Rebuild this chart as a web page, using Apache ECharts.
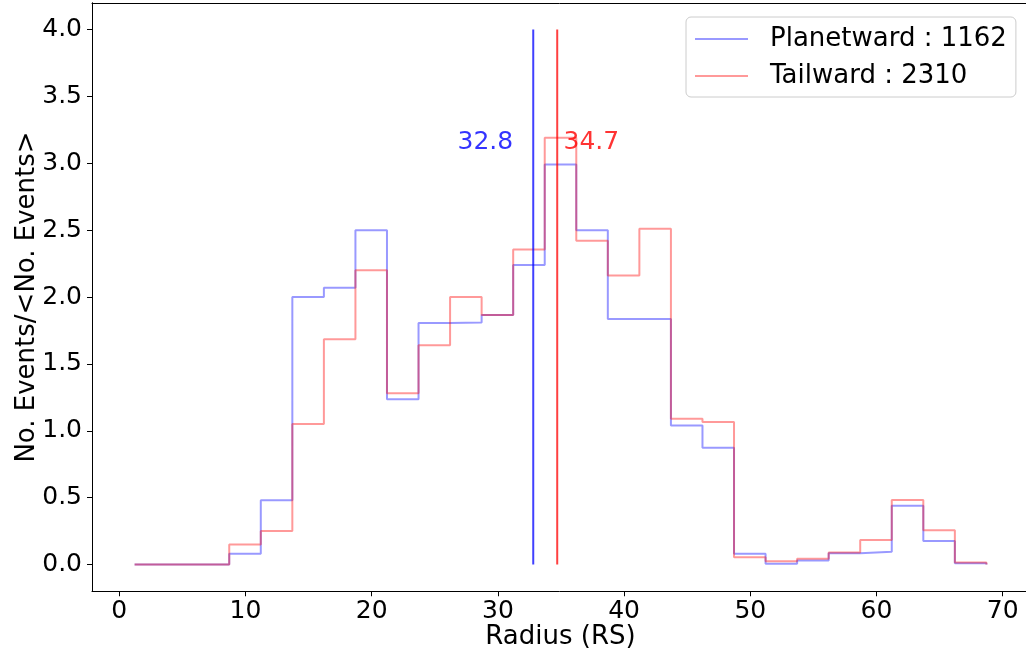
<!DOCTYPE html>
<html>
<head>
<meta charset="utf-8">
<script src="https://cdn.jsdelivr.net/npm/echarts@6/dist/echarts.min.js"></script>
<style>html,body{margin:0;padding:0;background:#fff;}#c{width:1026px;height:658px;}</style>
</head>
<body>
<div id="c"></div>
<script>
// Bin edges (Radius, RS)
const binEdges = [1.21, 3.71, 6.21, 8.71, 11.21, 13.71, 16.21, 18.71, 21.21, 23.71, 26.21, 28.71, 31.21, 33.71,
  36.21, 38.71, 41.21, 43.71, 46.21, 48.71, 51.21, 53.71, 56.21, 58.71, 61.21, 63.71, 66.21, 68.71];
// Normalised counts per bin
const planetward = [0, 0, 0, 0.08, 0.48, 2.00, 2.07, 2.50, 1.235, 1.805, 1.81, 1.865, 2.24, 2.99,
  2.50, 1.835, 1.835, 1.04, 0.873, 0.08, 0.005, 0.03, 0.085, 0.095, 0.44, 0.175, 0.01];
const tailward = [0, 0, 0, 0.15, 0.25, 1.05, 1.685, 2.20, 1.28, 1.64, 2.00, 1.865, 2.355, 3.19,
  2.42, 2.16, 2.51, 1.09, 1.065, 0.055, 0.025, 0.043, 0.09, 0.183, 0.483, 0.256, 0.015];
const seriesNames = ['Planetward : 1162', 'Tailward : 2310'];
const meanValues = [32.8, 34.7];
const meanLabelX = [26.8, 35.2];
const meanLabelY = 3.1;
const meanLineTop = 4.0;
const xTicks = [0, 10, 20, 30, 40, 50, 60, 70];
const yTicks = [0, 0.5, 1, 1.5, 2, 2.5, 3, 3.5, 4];
const xRange = [-2.165, 72.085];
const yRange = [-0.2, 4.2];

function stepPoints(edges, vals) {
  const pts = [[edges[0], 0]];
  for (let i = 0; i < vals.length; i++) {
    pts.push([edges[i], vals[i]]);
    pts.push([edges[i + 1], vals[i]]);
  }
  pts.push([edges[edges.length - 1], 0]);
  return pts;
}

const FONT = 'DejaVu Sans';
const blueStep = 'rgba(0,0,255,0.4)';
const redStep = 'rgba(255,0,0,0.4)';
const blueLine = 'rgba(0,0,255,0.75)';
const redLine = 'rgba(255,0,0,0.75)';
const spine = {show: true, onZero: false, lineStyle: {color: '#000', width: 1}};

const chart = echarts.init(document.getElementById('c'), null, {renderer: 'canvas'});
chart.setOption({
  animation: false,
  backgroundColor: '#fff',
  textStyle: {fontFamily: FONT},
  grid: {left: 92, top: 2.75, width: 937, height: 588.5, show: false, outerBoundsMode: 'none', containLabel: false},
  xAxis: [
    {type: 'value', min: xRange[0], max: xRange[1], position: 'bottom',
      axisLine: spine, splitLine: {show: false},
      axisTick: {show: true, length: 5, customValues: xTicks, lineStyle: {color: '#000', width: 1}},
      axisLabel: {fontSize: 25, color: '#000', margin: 8, fontFamily: FONT, customValues: xTicks},
      name: 'Radius (RS)', nameLocation: 'middle', nameGap: 33, nameMoveOverlap: false,
      nameTextStyle: {fontSize: 26, color: '#000', fontFamily: FONT}},
    {type: 'value', min: xRange[0], max: xRange[1], position: 'top',
      axisLine: spine, splitLine: {show: false}, axisTick: {show: false}, axisLabel: {show: false}}
  ],
  yAxis: {type: 'value', min: yRange[0], max: yRange[1], position: 'left',
    axisLine: spine, splitLine: {show: false},
    axisTick: {show: true, length: 5, customValues: yTicks, lineStyle: {color: '#000', width: 1}},
    axisLabel: {fontSize: 25, color: '#000', margin: 10, fontFamily: FONT, customValues: yTicks,
      formatter: v => Number(v).toFixed(1)},
    name: 'No. Events/<No. Events>', nameLocation: 'middle', nameGap: 52, nameMoveOverlap: false,
    nameTextStyle: {fontSize: 26, color: '#000', fontFamily: FONT}},
  legend: {
    orient: 'vertical', left: 686, top: 17,
    padding: [8, 9, 7, 9], itemGap: 9,
    itemWidth: 53, itemHeight: 2, icon: 'rect',
    backgroundColor: 'rgba(255,255,255,0.8)', borderColor: '#cccccc', borderWidth: 1, borderRadius: 5,
    textStyle: {fontSize: 26, color: '#000', fontFamily: FONT, lineHeight: 28, padding: [0, 0, 0, 17]},
    data: [
      {name: seriesNames[0], itemStyle: {color: blueStep}},
      {name: seriesNames[1], itemStyle: {color: redStep}}
    ]
  },
  series: [
    {name: seriesNames[0], type: 'line', data: stepPoints(binEdges, planetward),
      showSymbol: false, symbol: 'none', clip: false, color: blueStep,
      lineStyle: {color: blueStep, width: 2}, z: 3},
    {name: seriesNames[1], type: 'line', data: stepPoints(binEdges, tailward),
      showSymbol: false, symbol: 'none', clip: false, color: redStep,
      lineStyle: {color: redStep, width: 2}, z: 4},
    {name: 'meanP', type: 'line',
      data: [[meanValues[0], 0], [meanValues[0], meanLineTop]], showSymbol: false, symbol: 'none', clip: false,
      lineStyle: {color: blueLine, width: 2}, z: 5},
    {name: 'meanT', type: 'line',
      data: [[meanValues[1], 0], [meanValues[1], meanLineTop]], showSymbol: false, symbol: 'none', clip: false,
      lineStyle: {color: redLine, width: 2}, z: 5},
    {name: 'labels', type: 'scatter', symbolSize: 0, clip: false, silent: true,
      data: meanLabelX.map((x, i) => ({value: [x, meanLabelY], label: {color: i === 0 ? 'blue' : 'red'}})),
      label: {show: true, position: [0, 0], align: 'left', verticalAlign: 'bottom', fontSize: 25, fontFamily: FONT,
        lineHeight: 25, offset: [0, 5],
        formatter: p => meanValues[p.dataIndex].toFixed(1)},
      z: 6}
  ]
});
</script>
</body>
</html>
